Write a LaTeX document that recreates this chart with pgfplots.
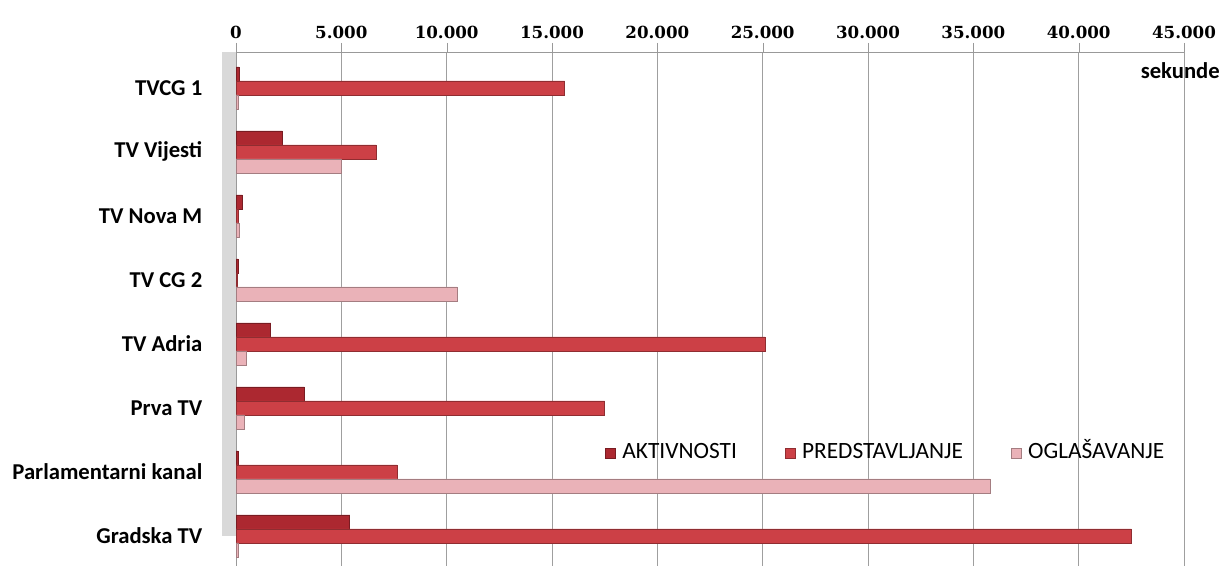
\documentclass[border=0pt]{standalone}
\usepackage{fontspec}
\setmainfont{Carlito}
\newfontfamily\tickfont{DejaVu Serif}
\usepackage{pgfplots}
\pgfplotsset{compat=1.18}
\definecolor{akt}{RGB}{172,40,48}
\definecolor{pred}{RGB}{204,64,70}
\definecolor{ogl}{RGB}{234,178,184}
\begin{document}
\begin{tikzpicture}
\useasboundingbox (0,0) rectangle (917.25pt,424.5pt);
\begin{axis}[
  at={(177pt,0pt)}, anchor=south west,
  scale only axis, width=711pt, height=385.5pt,
  xbar, bar width=10.5pt,
  xmin=0, xmax=45000, ymin=-0.47, ymax=7.56,
  clip=false,
  axis x line*=top, axis y line*=left,
  xtick={0,5000,...,45000},
  scaled x ticks=false,
  xticklabel style={font=\fontsize{12.5}{14}\tickfont\bfseries,
    /pgf/number format/1000 sep={.}, /pgf/number format/assume math mode=true},
  xmajorgrids, major grid style={gray!75, line width=0.6pt},
  ytick={0,...,7},
  yticklabels={Gradska TV, Parlamentarni kanal, Prva TV, TV Adria, TV CG 2, TV Nova M, TV Vijesti, TVCG 1},
  yticklabel style={font=\fontsize{17}{20}\selectfont\bfseries, xshift=-15pt},
  y tick style={draw=none},
  x tick style={gray!80},
  tick align=outside, major tick length=6.75pt,
  axis line style={gray!80},
  legend style={at={(0.385,0.22)}, anchor=west, draw=none, fill=none,
    legend columns=3, font=\fontsize{17.5}{20}\selectfont,
    nodes={text height=12pt, text depth=3pt},
    /tikz/every even column/.append style={column sep=34pt},
    /tikz/every odd column/.append style={column sep=3pt}},
  legend image code/.code={\fill[#1] (0pt,-3.75pt) rectangle (7.5pt,3.75pt);},
]
\fill[gray!30] (rel axis cs:0,0) ++(-10.5pt,0) rectangle (rel axis cs:0,1);
\addplot[fill=akt, draw=akt!70!black, bar shift=10.5pt] coordinates {
  (5400,0) (100,1) (3250,2) (1650,3) (100,4) (300,5) (2200,6) (150,7)};
\addplot[fill=pred, draw=pred!70!black, bar shift=0pt] coordinates {
  (42500,0) (7650,1) (17500,2) (25100,3) (50,4) (100,5) (6650,6) (15600,7)};
\addplot[fill=ogl, draw=ogl!70!black, bar shift=-10.5pt] coordinates {
  (100,0) (35800,1) (400,2) (500,3) (10500,4) (150,5) (5000,6) (100,7)};
\legend{AKTIVNOSTI, PREDSTAVLJANJE, OGLAŠAVANJE}
\node[anchor=north east, font=\fontsize{17}{20}\selectfont\bfseries, inner sep=0pt]
  at (rel axis cs:1,1) [xshift=27pt, yshift=-8pt] {sekunde};
\end{axis}
\end{tikzpicture}
\end{document}
